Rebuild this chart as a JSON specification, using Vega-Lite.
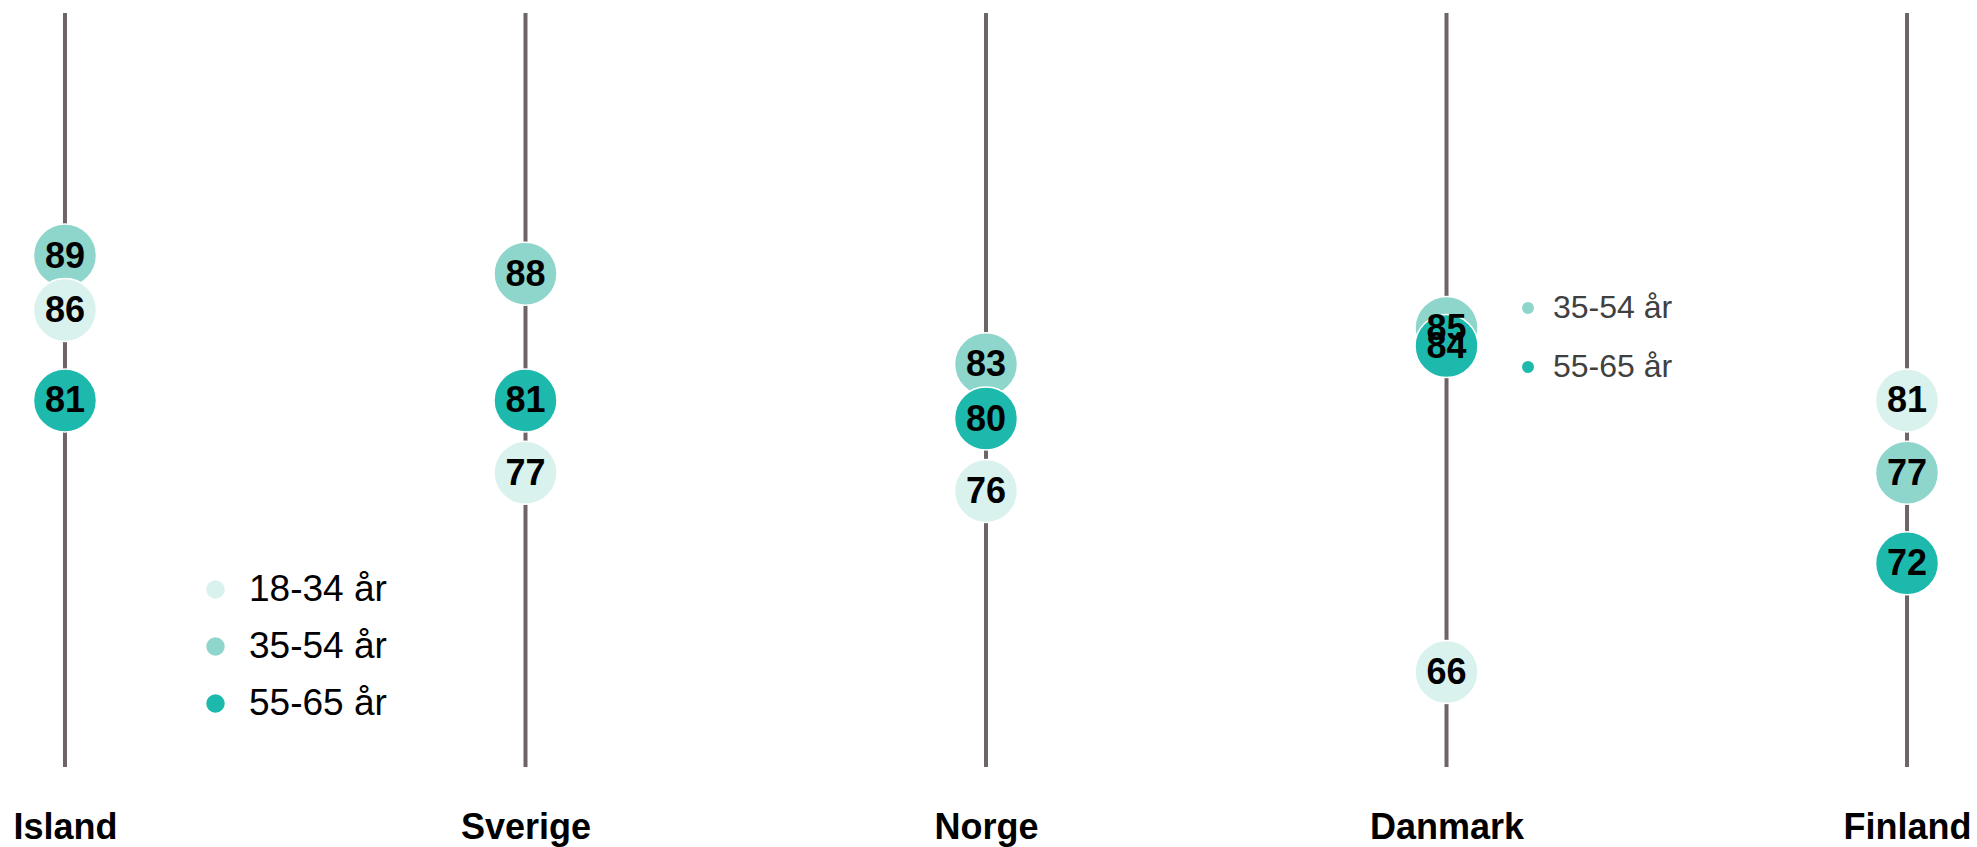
{
  "$schema": "https://vega.github.io/schema/vega-lite/v6.json",
  "autosize": {"type": "none"},
  "padding": {"left": 0, "top": 13, "right": 5, "bottom": 80},
  "width": 1972,
  "height": 754,
  "background": "white",
  "config": {"view": {"stroke": null}, "font": "Liberation Sans"},
  "datasets": {
    "countries": [
      {"country": "Island"},
      {"country": "Sverige"},
      {"country": "Norge"},
      {"country": "Danmark"},
      {"country": "Finland"}
    ],
    "main": [
      {"country": "Island", "age": "35-54 år", "value": 89},
      {"country": "Sverige", "age": "35-54 år", "value": 88},
      {"country": "Norge", "age": "35-54 år", "value": 83},
      {"country": "Danmark", "age": "35-54 år", "value": 85},
      {"country": "Finland", "age": "35-54 år", "value": 77},
      {"country": "Island", "age": "18-34 år", "value": 86},
      {"country": "Sverige", "age": "18-34 år", "value": 77},
      {"country": "Norge", "age": "18-34 år", "value": 76},
      {"country": "Danmark", "age": "18-34 år", "value": 66},
      {"country": "Finland", "age": "18-34 år", "value": 81},
      {"country": "Island", "age": "55-65 år", "value": 81},
      {"country": "Sverige", "age": "55-65 år", "value": 81},
      {"country": "Norge", "age": "55-65 år", "value": 80},
      {"country": "Danmark", "age": "55-65 år", "value": 84},
      {"country": "Finland", "age": "55-65 år", "value": 72}
    ],
    "mini": [
      {"country": "Danmark", "age": "35-54 år", "value": 85},
      {"country": "Danmark", "age": "55-65 år", "value": 84}
    ]
  },
  "encoding": {
    "x": {
      "field": "country", "type": "nominal",
      "sort": ["Island", "Sverige", "Norge", "Danmark", "Finland"],
      "scale": {"type": "point", "padding": 0.1411},
      "axis": {
        "title": null, "domain": false, "ticks": false,
        "labelPadding": 43, "labelFontSize": 36, "labelFontWeight": "bold",
        "labelColor": "black", "labelFont": "Liberation Sans", "labelAngle": 0
      }
    }
  },
  "layer": [
    {
      "data": {"name": "countries"},
      "mark": {"type": "rule", "color": "#6d6466", "strokeWidth": 4},
      "encoding": {}
    },
    {
      "data": {"name": "mini"},
      "mark": {"type": "circle", "size": 10, "opacity": 1},
      "encoding": {
        "y": {"field": "value", "type": "quantitative", "scale": {"domain": [60.75, 102.4], "zero": false, "nice": false}, "axis": null},
        "fill": {
          "field": "age", "type": "nominal",
          "scale": {"domain": ["35-54 år", "55-65 år"], "range": ["#8ed5cb", "#1eb9ad"]},
          "legend": {
            "title": null, "orient": "none", "legendX": 1512, "legendY": 279,
            "symbolSize": 144, "symbolType": "circle", "symbolOpacity": 1,
            "labelFontSize": 32, "labelFont": "Liberation Sans", "labelColor": "#404040",
            "labelOffset": 9, "rowPadding": 27
          }
        }
      }
    },
    {
      "data": {"name": "main"},
      "mark": {"type": "circle", "size": 3969, "opacity": 1, "stroke": "white", "strokeWidth": 1.5},
      "encoding": {
        "y": {"field": "value", "type": "quantitative", "scale": {"domain": [60.75, 102.4], "zero": false, "nice": false}, "axis": null},
        "color": {
          "field": "age", "type": "nominal",
          "scale": {"domain": ["18-34 år", "35-54 år", "55-65 år"], "range": ["#d9f2ee", "#8ed5cb", "#1eb9ad"]},
          "legend": {
            "title": null, "orient": "none", "legendX": 197, "legendY": 558,
            "symbolSize": 400, "symbolType": "circle",
            "labelFontSize": 37, "labelFont": "Liberation Sans", "labelColor": "black",
            "labelOffset": 15, "rowPadding": 19
          }
        }
      }
    },
    {
      "data": {"name": "main"},
      "mark": {"type": "text", "fontSize": 36, "fontWeight": "bold", "font": "Liberation Sans", "color": "black", "baseline": "middle", "dy": 1},
      "encoding": {
        "y": {"field": "value", "type": "quantitative", "scale": {"domain": [60.75, 102.4], "zero": false, "nice": false}, "axis": null},
        "text": {"field": "value", "type": "quantitative"}
      }
    }
  ]
}
